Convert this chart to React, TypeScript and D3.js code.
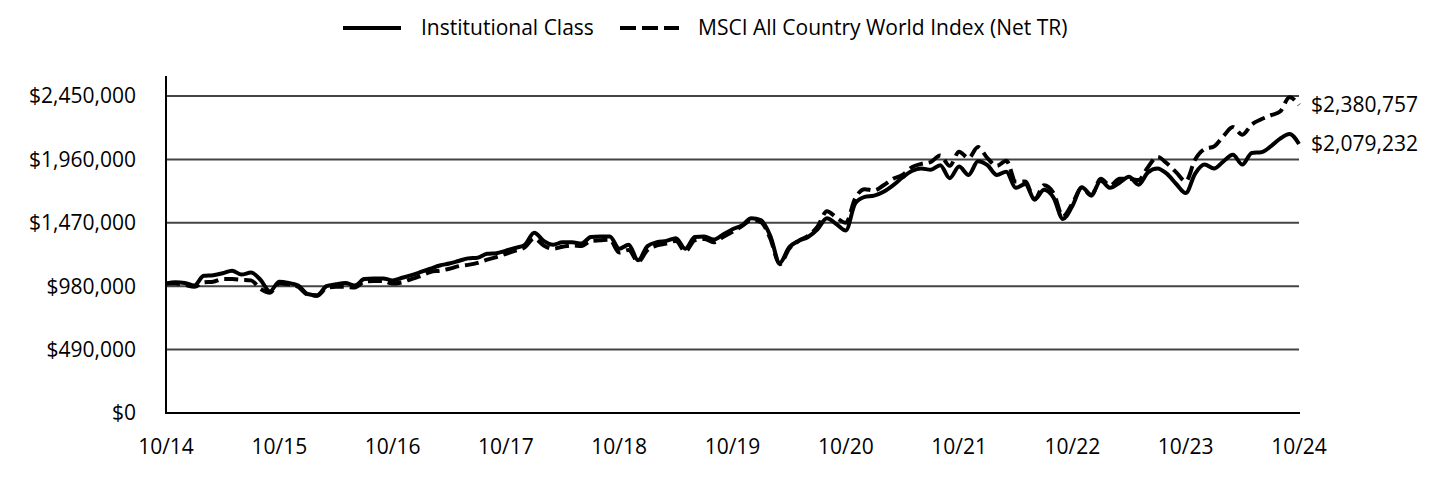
import React from "react";
import * as d3 from "d3";

// Monthly values (in $ thousands), 10/14 .. 10/24
const institutional: number[] = [
  1000, 1010, 1005, 985, 1060, 1065, 1080, 1100, 1070, 1085, 1030, 940,
  1015, 1005, 985, 920, 910, 980, 995, 1005, 985, 1035, 1040, 1040,
  1025, 1045, 1065, 1090, 1115, 1140, 1155, 1175, 1195, 1200, 1230, 1235,
  1255, 1275, 1300, 1393, 1330, 1300, 1320, 1320, 1310, 1360, 1365, 1365,
  1270, 1300, 1180, 1290, 1320, 1330, 1350, 1270, 1360, 1365, 1340, 1380,
  1420, 1450, 1505, 1490, 1370, 1160, 1280, 1330, 1360, 1420, 1505, 1460,
  1410, 1620, 1670, 1680, 1710, 1760, 1820, 1870, 1890, 1880, 1915, 1815,
  1905, 1840, 1945, 1915, 1840, 1865, 1740, 1770, 1650, 1725, 1665, 1500,
  1600, 1745, 1685, 1795, 1740, 1780, 1825, 1765, 1860, 1890, 1850, 1770,
  1700, 1850, 1920, 1890, 1945, 1995, 1920, 2010, 2015, 2060, 2120, 2156,
  2079.232,
];

const msciAcwi: number[] = [
  1000, 1000, 990, 975, 1010, 1015, 1035, 1035, 1030, 1025, 960, 930,
  1000, 995, 975, 915, 905, 965, 975, 975, 970, 1015, 1020, 1020,
  1000, 1010, 1035, 1060, 1090, 1100, 1115, 1135, 1145, 1160, 1185, 1205,
  1230, 1255, 1280, 1350, 1295, 1270, 1285, 1295, 1290, 1330, 1335, 1340,
  1240, 1260, 1170, 1260, 1295, 1310, 1330, 1250, 1335, 1345, 1320, 1360,
  1400, 1445, 1490, 1475, 1350, 1150, 1270, 1330, 1370, 1440, 1560, 1510,
  1470, 1660, 1730, 1720, 1760, 1810, 1840, 1900, 1925, 1940, 1990, 1910,
  2020, 1970, 2055, 1970, 1910, 1950, 1790, 1790, 1650, 1760, 1700, 1520,
  1620, 1740, 1680, 1810, 1760, 1810, 1810, 1800, 1900, 1980, 1930, 1860,
  1790, 1960, 2040, 2060, 2140, 2210, 2150, 2230, 2270, 2300, 2330, 2440,
  2380.757,
];

const xTickLabels: string[] = [
  "10/14", "10/15", "10/16", "10/17", "10/18", "10/19",
  "10/20", "10/21", "10/22", "10/23", "10/24",
];

const yTicks: number[] = [0, 490000, 980000, 1470000, 1960000, 2450000];

const seriesNames: string[] = ["Institutional Class", "MSCI All Country World Index (Net TR)"];
const endLabels: string[] = ["$2,079,232", "$2,380,757"];

const FONT = "'Open Sans', 'Noto Sans', sans-serif";
const FS = 21;

export default function App() {
  const width = 1440;
  const height = 480;
  const left = 166;
  const right = 1299;
  const top = 96;
  const bottom = 413;

  const x = d3.scaleLinear().domain([0, 120]).range([left, right]);
  const y = d3.scaleLinear().domain([0, 2450000]).range([bottom, top]);

  const line = d3
    .line<number>()
    .x((_, i) => x(i))
    .y((d) => y(d * 1000))
    .curve(d3.curveMonotoneX);

  const fmt = (v: number) => "$" + d3.format(",")(v);

  const instEnd = institutional[institutional.length - 1] * 1000;
  const msciEnd = msciAcwi[msciAcwi.length - 1] * 1000;

  return (
    <svg
      width={width}
      height={height}
      style={{ position: "absolute", left: 0, top: 0, background: "#fff" }}
      fontFamily={FONT}
    >
      {/* Legend */}
      <g>
        <line x1={343} x2={401} y1={28} y2={28} stroke="#000" strokeWidth={4} />
        <text x={421} y={28} dy="0.35em" fontSize={FS} fill="#000">
          {seriesNames[0]}
        </text>
        <line
          x1={620}
          x2={679}
          y1={28}
          y2={28}
          stroke="#000"
          strokeWidth={4}
          strokeDasharray="16,6"
        />
        <text x={698} y={28} dy="0.35em" fontSize={FS} fill="#000">
          {seriesNames[1]}
        </text>
      </g>

      {/* Gridlines */}
      {yTicks.map((t) =>
        t === 0 ? null : (
          <line key={t} x1={left} x2={right} y1={y(t)} y2={y(t)} stroke="#444" strokeWidth={2} />
        )
      )}

      {/* Y tick labels */}
      {yTicks.map((t) => (
        <text
          key={"yl" + t}
          x={136}
          y={y(t)}
          dy="0.35em"
          textAnchor="end"
          fontSize={FS}
          fill="#000"
        >
          {fmt(t)}
        </text>
      ))}

      {/* X tick labels */}
      {xTickLabels.map((lab, i) => (
        <text
          key={lab}
          x={x(i * 12)}
          y={447}
          dy="0.35em"
          textAnchor="middle"
          fontSize={FS}
          fill="#000"
        >
          {lab}
        </text>
      ))}

      {/* Axes */}
      <line x1={left} x2={left} y1={76} y2={bottom + 1} stroke="#000" strokeWidth={2} />
      <line x1={left - 1} x2={right + 1} y1={bottom} y2={bottom} stroke="#000" strokeWidth={2} />

      {/* Series */}
      <path
        d={line(msciAcwi) || ""}
        fill="none"
        stroke="#000"
        strokeWidth={4}
        strokeDasharray="14,6"
      />
      <path d={line(institutional) || ""} fill="none" stroke="#000" strokeWidth={4} />

      {/* End labels */}
      <text x={1311} y={y(msciEnd)} dy="0.35em" fontSize={FS} fill="#000">
        {endLabels[1]}
      </text>
      <text x={1311} y={y(instEnd)} dy="0.35em" fontSize={FS} fill="#000">
        {endLabels[0]}
      </text>
    </svg>
  );
}
